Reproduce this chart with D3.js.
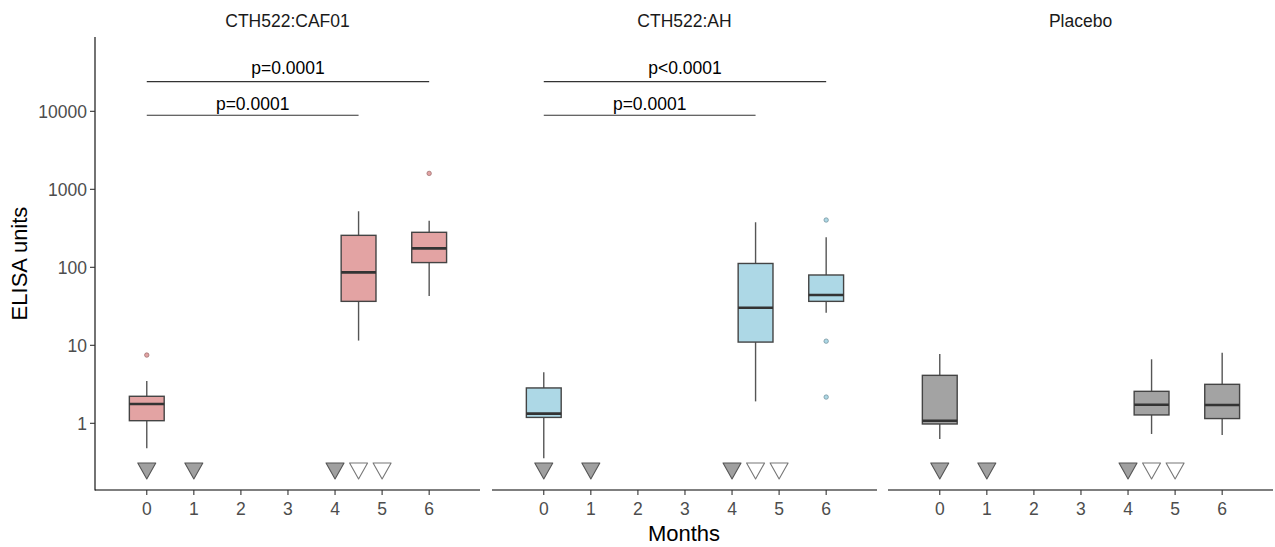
<!DOCTYPE html>
<html lang="en">
<head>
    <meta charset="UTF-8">
    <title>ELISA units by month</title>
    <script src="https://d3js.org/d3.v7.min.js"></script>
    <style>
        body { margin: 0; background: #fff; }
        svg { display: block; font-family: "Liberation Sans", Arial, sans-serif; }
        .tick-label { font-size: 17.5px; fill: #4d4d4d; }
        .strip { font-size: 17.5px; fill: #1a1a1a; text-anchor: middle; }
        .axis-title { font-size: 22px; fill: #000; text-anchor: middle; }
        .sig-label { font-size: 17.5px; fill: #000; text-anchor: middle; }
    </style>
</head>
<body>
    <svg width="1275" height="547"></svg>
    <script>
        // ---- data ----
        const groups = ["CTH522:CAF01", "CTH522:AH", "Placebo"];
        const groupFill = ["#e3a3a3", "#add8e6", "#a3a3a3"];
        const monthTicks = [0, 1, 2, 3, 4, 5, 6];
        const yTicks = [1, 10, 100, 1000, 10000];
        const boxMonths = [0, 4.5, 6];

        // [lower whisker, q1, median, q3, upper whisker] per box month
        const caf01Stats = [[0.48, 1.08, 1.77, 2.22, 3.49], [11.5, 36.6, 86, 257, 523], [42.9, 115, 175, 281, 396]];
        const ahStats = [[0.356, 1.19, 1.33, 2.84, 4.5], [1.91, 11.0, 30.3, 112, 378], [26.2, 36.6, 44.2, 79.7, 243]];
        const placeboStats = [[0.63, 0.98, 1.08, 4.12, 7.73], [0.73, 1.28, 1.73, 2.57, 6.62], [0.71, 1.15, 1.72, 3.16, 8.04]];
        const allStats = [caf01Stats, ahStats, placeboStats];

        // [month, value]
        const caf01Outliers = [[0, 7.5], [6, 1600]];
        const ahOutliers = [[6, 404], [6, 11.3], [6, 2.17]];
        const placeboOutliers = [];
        const allOutliers = [caf01Outliers, ahOutliers, placeboOutliers];

        // triangles along the bottom
        const doseMonths = [0, 1, 4];
        const sampleMonths = [4.5, 5];
        const markerValue = 0.245;

        // significance brackets: from month, to month, height value
        const sigFrom = [0, 0];
        const sigTo = [6, 4.5];
        const sigValue = [24000, 8900];
        const sigLabels = [["p=0.0001", "p=0.0001"], ["p<0.0001", "p=0.0001"], []];

        // ---- layout ----
        const svg = d3.select("svg");
        const plotTop = 37, plotBottom = 490;
        const panelW = 385;
        const panelX = [95, 492, 888];

        const y = d3.scaleLog().domain([0.1396, 89700]).range([plotBottom, plotTop]);
        const x = d3.scaleLinear().domain([-1.1, 7.08]).range([0, panelW]);
        const boxW = x(0.74) - x(0);

        // y axis (only on first panel)
        svg.append("line")
            .attr("x1", panelX[0]).attr("x2", panelX[0])
            .attr("y1", plotTop).attr("y2", plotBottom + 0.5)
            .attr("stroke", "#000").attr("stroke-width", 1.1);

        yTicks.forEach(t => {
            svg.append("line")
                .attr("x1", panelX[0] - 5).attr("x2", panelX[0])
                .attr("y1", y(t)).attr("y2", y(t))
                .attr("stroke", "#333").attr("stroke-width", 1.1);
            svg.append("text")
                .attr("class", "tick-label")
                .attr("x", panelX[0] - 8)
                .attr("y", y(t))
                .attr("dy", "0.36em")
                .attr("text-anchor", "end")
                .text(d3.format("d")(t));
        });

        groups.forEach((g, gi) => {
            const p = svg.append("g").attr("transform", `translate(${panelX[gi]},0)`);

            // strip title
            p.append("text").attr("class", "strip")
                .attr("x", panelW / 2).attr("y", 27)
                .text(g);

            // x axis
            p.append("line")
                .attr("x1", 0).attr("x2", panelW)
                .attr("y1", plotBottom).attr("y2", plotBottom)
                .attr("stroke", "#000").attr("stroke-width", 1.1);

            monthTicks.forEach(m => {
                p.append("line")
                    .attr("x1", x(m)).attr("x2", x(m))
                    .attr("y1", plotBottom).attr("y2", plotBottom + 5)
                    .attr("stroke", "#333").attr("stroke-width", 1.1);
                p.append("text").attr("class", "tick-label")
                    .attr("x", x(m)).attr("y", 515)
                    .attr("text-anchor", "middle")
                    .text(m);
            });

            // boxes
            allStats[gi].forEach((s, bi) => {
                const cx = x(boxMonths[bi]);
                const [lo, q1, med, q3, hi] = s;
                p.append("line")
                    .attr("x1", cx).attr("x2", cx)
                    .attr("y1", y(hi)).attr("y2", y(q3))
                    .attr("stroke", "#555").attr("stroke-width", 1.4);
                p.append("line")
                    .attr("x1", cx).attr("x2", cx)
                    .attr("y1", y(q1)).attr("y2", y(lo))
                    .attr("stroke", "#555").attr("stroke-width", 1.4);
                p.append("rect")
                    .attr("x", cx - boxW / 2).attr("width", boxW)
                    .attr("y", y(q3)).attr("height", y(q1) - y(q3))
                    .attr("fill", groupFill[gi])
                    .attr("stroke", "#444").attr("stroke-width", 1.4);
                p.append("line")
                    .attr("x1", cx - boxW / 2).attr("x2", cx + boxW / 2)
                    .attr("y1", y(med)).attr("y2", y(med))
                    .attr("stroke", "#333").attr("stroke-width", 2.6);
            });

            // outliers
            allOutliers[gi].forEach(o => {
                p.append("circle")
                    .attr("cx", x(o[0])).attr("cy", y(o[1]))
                    .attr("r", 2.2)
                    .attr("fill", groupFill[gi])
                    .attr("stroke", d3.color(groupFill[gi]).darker(1))
                    .attr("stroke-width", 0.8);
            });

            // triangles
            const tri = (m, filled) => {
                const cx = x(m), cy = y(markerValue), w = 9, h = 8;
                p.append("path")
                    .attr("d", `M${cx - w},${cy - h}L${cx + w},${cy - h}L${cx},${cy + h}Z`)
                    .attr("fill", filled ? "#a0a0a0" : "#fff")
                    .attr("stroke", filled ? "#555" : "#777")
                    .attr("stroke-width", 1.1)
                    .attr("stroke-linejoin", "round");
            };
            doseMonths.forEach(m => tri(m, true));
            sampleMonths.forEach(m => tri(m, false));

            // significance brackets
            sigLabels[gi].forEach((lab, si) => {
                const yy = y(sigValue[si]);
                p.append("line")
                    .attr("x1", x(sigFrom[si])).attr("x2", x(sigTo[si]))
                    .attr("y1", yy).attr("y2", yy)
                    .attr("stroke", "#333").attr("stroke-width", 1.1);
                p.append("text").attr("class", "sig-label")
                    .attr("x", x((sigFrom[si] + sigTo[si]) / 2))
                    .attr("y", yy - (si === 0 ? 8 : 5))
                    .text(lab);
            });
        });

        // axis titles
        svg.append("text").attr("class", "axis-title")
            .attr("x", (panelX[0] + panelX[2] + panelW) / 2)
            .attr("y", 541)
            .text("Months");
        svg.append("text").attr("class", "axis-title")
            .attr("transform", `translate(27,${(plotTop + plotBottom) / 2}) rotate(-90)`)
            .text("ELISA units");
    </script>
</body>
</html>
